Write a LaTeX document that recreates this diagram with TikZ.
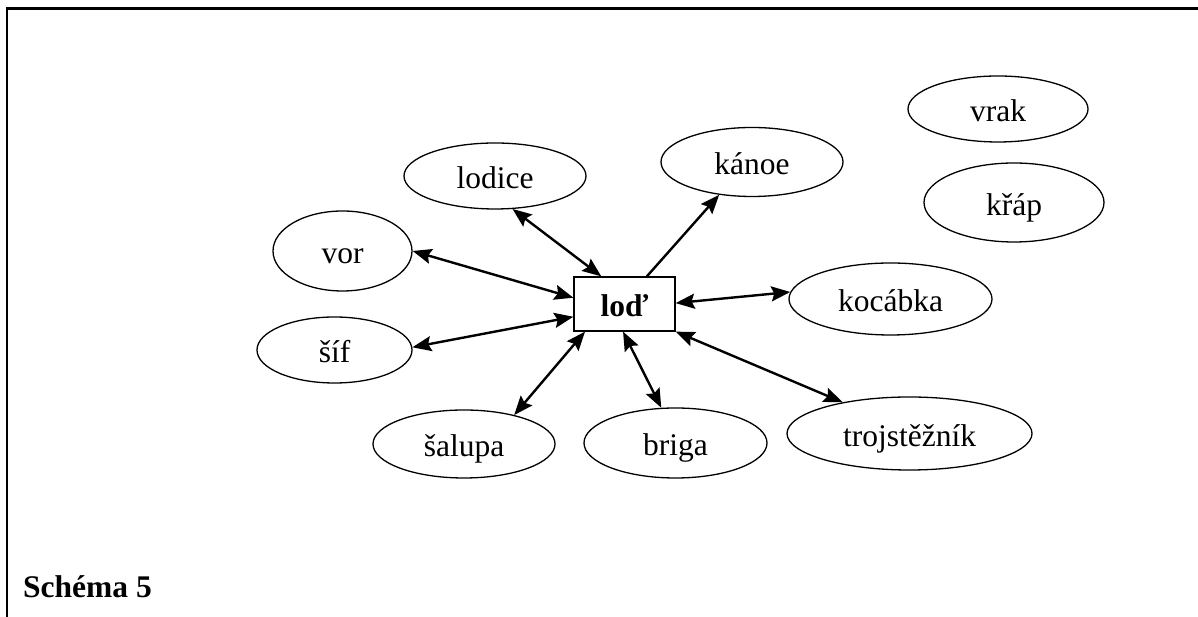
\documentclass[tikz,border=0pt]{standalone}
\usepackage{fontspec}
\setmainfont{Liberation Serif}
\usetikzlibrary{shapes.geometric,arrows.meta}
\begin{document}
\begin{tikzpicture}[x=1pt,y=1pt,
  txt/.style={font=\fontsize{31.5}{38}\selectfont},
  word/.style={ellipse,draw,line width=1.3pt,inner sep=0pt,txt,
    text height=26pt,text depth=0pt},
  hub/.style={draw,line width=1.3pt,inner sep=0pt,
    font=\bfseries\fontsize{31.5}{38}\selectfont,text height=25pt,text depth=0pt},
  head/.tip={Stealth[length=19pt,width=15pt,inset=3pt]},
  link/.style={line width=2.4pt,{head}-{head}},
  onelink/.style={line width=2.4pt,-{head}}]
\useasboundingbox (0,0) rectangle (1198,617);

% open frame: top and left edges only
\draw[line width=2.7pt] (7,-2) -- (7,608.7) -- (1200,608.7);

% central word
\node[hub,minimum width=101pt,minimum height=54pt] (lod) at (624.5,313) {loď};

% related words
\node[word,minimum width=182pt,minimum height=66pt] (lodice) at (495,441) {lodice};
\node[word,minimum width=139pt,minimum height=80pt] (vor) at (342.5,366) {vor};
\node[word,minimum width=182pt,minimum height=69pt] (kanoe) at (752,455) {kánoe};
\node[word,minimum width=180pt,minimum height=66pt] (vrak) at (998,508) {vrak};
\node[word,minimum width=180pt,minimum height=79pt] (krap) at (1014,414.5) {křáp};
\node[word,minimum width=203pt,minimum height=72pt] (kocabka) at (890.5,318) {kocábka};
\node[word,minimum width=155pt,minimum height=66pt] (sif) at (334.5,267) {šíf};
\node[word,minimum width=182pt,minimum height=68pt] (salupa) at (464,173) {šalupa};
\node[word,minimum width=183pt,minimum height=70pt] (briga) at (675.5,174) {briga};
\node[word,minimum width=245pt,minimum height=73pt] (troj) at (909.5,183.5) {trojstěžník};

% connectors
\draw[link] (lodice.-62) -- (lod.130);
\draw[link] (vor.0) -- (lod.173);
\draw[onelink] (lod.51.5) -- (kanoe.-135);
\draw[link] (lod.1) -- (kocabka.176);
\draw[link] (sif.2) -- (lod.194);
\draw[link] (salupa.30) -- (lod.215);
\draw[link] (briga.112.5) -- (lod.267);
\draw[link] (lod.south east) -- (troj.155);

% caption
\node[anchor=base west,inner sep=0pt,font=\bfseries\fontsize{31.5}{38}\selectfont] (caption) at (23,19) {Schéma 5};
\end{tikzpicture}
\end{document}
